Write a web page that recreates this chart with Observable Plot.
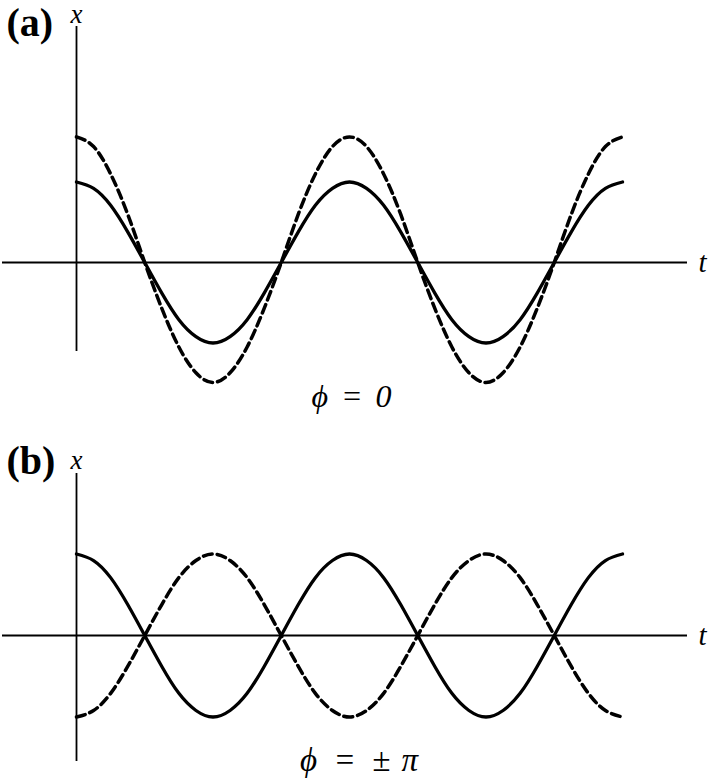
<!DOCTYPE html>
<html>
<head>
<meta charset="utf-8">
<script src="https://cdn.jsdelivr.net/npm/d3@7"></script>
<script src="https://cdn.jsdelivr.net/npm/@observablehq/plot@0.6"></script>
<style>
  html, body { margin: 0; padding: 0; background: white; }
  #chart svg { display: block; }
</style>
</head>
<body>
<div id="chart"></div>
<script>
// time samples, in units of π (every π/8)
const tPi = [0, 0.125, 0.25, 0.375, 0.5, 0.625, 0.75, 0.875,
             1, 1.125, 1.25, 1.375, 1.5, 1.625, 1.75, 1.875,
             2, 2.125, 2.25, 2.375, 2.5, 2.625, 2.75, 2.875,
             3, 3.125, 3.25, 3.375, 3.5, 3.625, 3.75, 3.875, 4];
// panel (a): φ = 0
const solidA  = [1, 0.92, 0.71, 0.38, 0, -0.38, -0.71, -0.92,
                 -1, -0.92, -0.71, -0.38, 0, 0.38, 0.71, 0.92,
                 1, 0.92, 0.71, 0.38, 0, -0.38, -0.71, -0.92,
                 -1, -0.92, -0.71, -0.38, 0, 0.38, 0.71, 0.92, 1];
const dashedA = [1.56, 1.44, 1.1, 0.6, 0, -0.57, -1.05, -1.37,
                 -1.49, -1.37, -1.05, -0.57, 0, 0.6, 1.1, 1.44,
                 1.56, 1.44, 1.1, 0.6, 0, -0.57, -1.05, -1.37,
                 -1.49, -1.37, -1.05, -0.57, 0, 0.6, 1.1, 1.44, 1.56];
// panel (b): φ = ±π
const solidB  = [1, 0.92, 0.71, 0.38, 0, -0.38, -0.71, -0.92,
                 -1, -0.92, -0.71, -0.38, 0, 0.38, 0.71, 0.92,
                 1, 0.92, 0.71, 0.38, 0, -0.38, -0.71, -0.92,
                 -1, -0.92, -0.71, -0.38, 0, 0.38, 0.71, 0.92, 1];
const dashedB = [-1, -0.92, -0.71, -0.38, 0, 0.38, 0.71, 0.92,
                 1, 0.92, 0.71, 0.38, 0, -0.38, -0.71, -0.92,
                 -1, -0.92, -0.71, -0.38, 0, 0.38, 0.71, 0.92,
                 1, 0.92, 0.71, 0.38, 0, -0.38, -0.71, -0.92, -1];
// labels
const panelLabels = ["(a)", "(b)"];
const phaseLabels = ["\u03D5\u2009\u2009=\u2009\u20090", "\u03D5\u2002=\u2002\u00B1\u00A0\u200A\u03C0"];
const axisLabels = ["x", "t"];

const rows = (vals) => tPi.map((t, i) => ({t, v: vals[i]}));
const serif = "'Liberation Serif', 'DejaVu Serif', serif";

function panel(cfg) {
  return Plot.plot({
    width: 713,
    height: cfg.height,
    marginLeft: 2,
    marginRight: 26,
    marginTop: cfg.marginTop,
    marginBottom: cfg.marginBottom,
    style: {background: "white", fontFamily: serif, overflow: "visible"},
    x: {domain: [0, 4], range: [76, 622], axis: null},
    y: {domain: [-1, 1], range: cfg.yRange, axis: null},
    marks: [
      Plot.ruleY([0], {stroke: "black", strokeWidth: 1.8}),
      Plot.ruleX([0], {stroke: "black", strokeWidth: 1.8}),
      Plot.line(rows(cfg.dashed), {x: "t", y: "v", curve: "natural", stroke: "black", strokeWidth: 3.5, strokeDasharray: "9,5"}),
      Plot.line(rows(cfg.solid), {x: "t", y: "v", curve: "natural", stroke: "black", strokeWidth: 3.3}),
      // panel letter
      Plot.text([cfg.panelLabel], {frameAnchor: "top-left", textAnchor: "start", lineAnchor: "bottom",
        dx: 4, dy: cfg.letterDy, fontSize: 40, fontWeight: "bold", fill: "black"}),
      // axis labels
      Plot.text([{t: 0, s: axisLabels[0]}], {x: "t", text: "s", frameAnchor: "top", lineAnchor: "bottom",
        dy: cfg.xLabelDy, fontSize: 27, fontStyle: "italic", fill: "black"}),
      Plot.text([{v: 0, s: axisLabels[1]}], {y: "v", text: "s", frameAnchor: "right", textAnchor: "start", lineAnchor: "bottom",
        dx: 11, dy: 9, fontSize: 29, fontStyle: "italic", fill: "black"}),
      // phase label
      Plot.text([{t: 2, s: cfg.phaseLabel}], {x: "t", text: "s", frameAnchor: "bottom", lineAnchor: "bottom",
        dx: cfg.phaseDx, dy: cfg.phaseDy, fontSize: cfg.phaseSize, fontStyle: "italic", fill: "black"})
    ]
  });
}

const chart = document.getElementById("chart");
chart.append(panel({
  height: 410, marginTop: 26, marginBottom: 59, yRange: [342.5, 181.5],
  solid: solidA, dashed: dashedA, panelLabel: panelLabels[0], phaseLabel: phaseLabels[0],
  letterDy: 9, xLabelDy: -4, phaseDx: 2, phaseDy: 55, phaseSize: 32
}));
chart.append(panel({
  height: 369, marginTop: 63, marginBottom: 18, yRange: [306.5, 143.5],
  solid: solidB, dashed: dashedB, panelLabel: panelLabels[1], phaseLabel: phaseLabels[1],
  letterDy: 0, xLabelDy: -5, phaseDx: 9.5, phaseDy: 9, phaseSize: 33
}));
</script>
</body>
</html>
